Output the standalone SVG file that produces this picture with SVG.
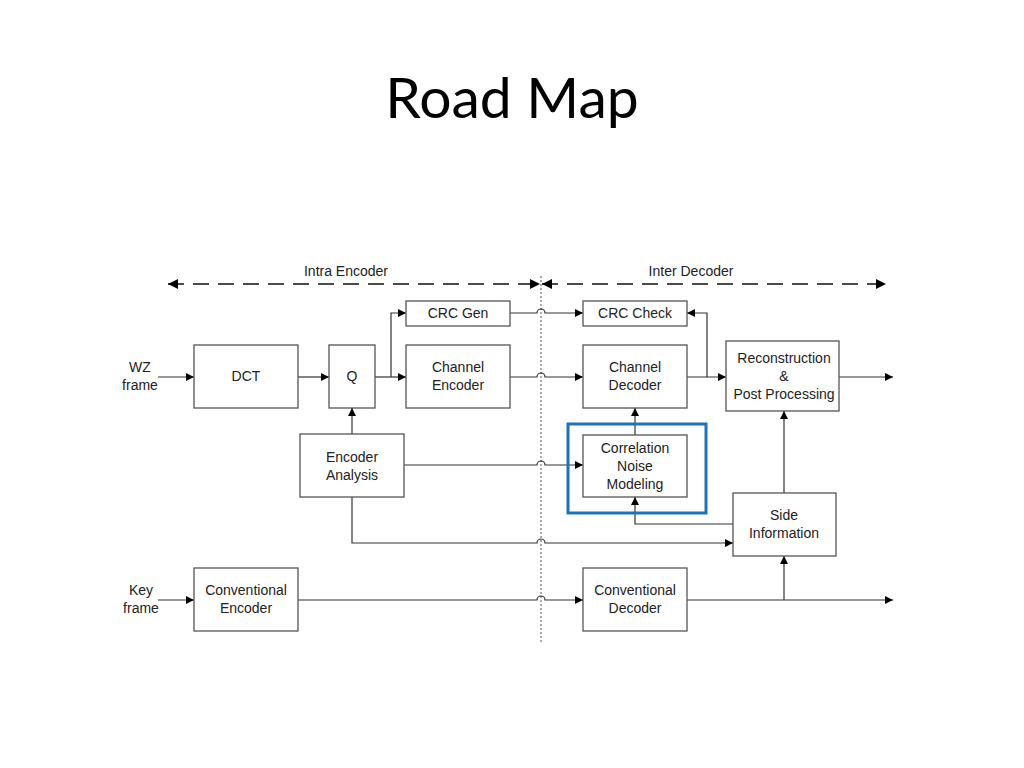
<svg xmlns="http://www.w3.org/2000/svg" width="1024" height="768" viewBox="0 0 1024 768">
<style>
.box{fill:#fff;stroke:#555;stroke-width:1.3}
.t{font-family:"Liberation Sans",Arial,sans-serif;font-size:14px;fill:#222;text-anchor:middle}
.c{fill:none;stroke:#333;stroke-width:1.2}
.ca{fill:none;stroke:#333;stroke-width:1.2;marker-end:url(#ah)}
.dash{fill:none;stroke:#111;stroke-width:1.5;stroke-dasharray:16 9}
</style>
<defs>
<marker id="ah" viewBox="0 0 10 10" refX="10" refY="5" markerWidth="8" markerHeight="8" markerUnits="userSpaceOnUse" orient="auto"><path d="M0,0 L10,5 L0,10 z" fill="#000"/></marker>
<marker id="dh" viewBox="0 0 10 10" refX="10" refY="5" markerWidth="10" markerHeight="10" markerUnits="userSpaceOnUse" orient="auto-start-reverse"><path d="M0,0 L10,5 L0,10 z" fill="#000"/></marker>
</defs>
<rect width="1024" height="768" fill="#fff"/>
<text x="512" y="118" font-family="Lato,'Open Sans',sans-serif" font-size="57" fill="#000" text-anchor="middle">Road Map</text>

<g id="ranges">
<text class="t" x="346" y="276">Intra Encoder</text>
<text class="t" x="691" y="276">Inter Decoder</text>
<path class="dash" d="M168,284 H540" marker-start="url(#dh)" marker-end="url(#dh)"/>
<path class="dash" d="M542,284 H886" marker-start="url(#dh)" marker-end="url(#dh)"/>
<path d="M541,276 V643" fill="none" stroke="#555" stroke-width="1" stroke-dasharray="2 2"/>
</g>

<g id="connectors">
<path class="ca" d="M158,377 H194"/>
<path class="ca" d="M298,377 H329"/>
<path class="ca" d="M375,377 H406"/>
<path class="ca" d="M391,377 V313 H406"/>
<path class="ca" d="M510,313 H537 a4,4 0 0 1 8,0 H583"/>
<path class="ca" d="M510,377 H537 a4,4 0 0 1 8,0 H583"/>
<path class="ca" d="M687,377 H726"/>
<path class="ca" d="M707,377 V313 H687"/>
<path class="ca" d="M839,377 H893"/>
<path class="ca" d="M352,434 V408"/>
<path class="ca" d="M404,465 H537 a4,4 0 0 1 8,0 H583"/>
<path class="ca" d="M352,497 V543 H537 a4,4 0 0 1 8,0 H733"/>
<path class="ca" d="M635,435 V408"/>
<path class="ca" d="M733,524 H635 V497"/>
<path class="ca" d="M784,493 V411"/>
<path class="ca" d="M158,600 H194"/>
<path class="ca" d="M298,600 H537 a4,4 0 0 1 8,0 H583"/>
<path class="ca" d="M687,600 H893"/>
<path class="ca" d="M784,600 V556"/>
</g>

<g id="wz"><text class="t" x="140" y="372">WZ</text><text class="t" x="140" y="390">frame</text></g>
<g id="key"><text class="t" x="141" y="595">Key</text><text class="t" x="141" y="613">frame</text></g>

<g id="dct"><rect class="box" x="194" y="345" width="104" height="63"/><text class="t" x="246" y="381">DCT</text></g>
<g id="q"><rect class="box" x="329" y="345" width="46" height="63"/><text class="t" x="352" y="381">Q</text></g>
<g id="crcgen"><rect class="box" x="406" y="301" width="104" height="25"/><text class="t" x="458" y="318">CRC Gen</text></g>
<g id="chenc"><rect class="box" x="406" y="345" width="104" height="63"/><text class="t" x="458" y="372">Channel</text><text class="t" x="458" y="390">Encoder</text></g>
<g id="crccheck"><rect class="box" x="583" y="301" width="104" height="25"/><text class="t" x="635" y="318">CRC Check</text></g>
<g id="chdec"><rect class="box" x="583" y="345" width="104" height="63"/><text class="t" x="635" y="372">Channel</text><text class="t" x="635" y="390">Decoder</text></g>
<g id="recon"><rect class="box" x="726" y="341" width="113" height="70"/><text class="t" x="784" y="363">Reconstruction</text><text class="t" x="784" y="381">&amp;</text><text class="t" x="784" y="399">Post Processing</text></g>
<g id="encan"><rect class="box" x="300" y="434" width="104" height="63"/><text class="t" x="352" y="462">Encoder</text><text class="t" x="352" y="480">Analysis</text></g>
<g id="cnm"><rect class="box" x="583" y="435" width="104" height="62"/><text class="t" x="635" y="453">Correlation</text><text class="t" x="635" y="471">Noise</text><text class="t" x="635" y="489">Modeling</text>
<rect x="568" y="424" width="138" height="89" fill="none" stroke="#1b74b9" stroke-width="3"/></g>
<g id="side"><rect class="box" x="733" y="493" width="103" height="63"/><text class="t" x="784" y="520">Side</text><text class="t" x="784" y="538">Information</text></g>
<g id="convenc"><rect class="box" x="194" y="568" width="104" height="63"/><text class="t" x="246" y="595">Conventional</text><text class="t" x="246" y="613">Encoder</text></g>
<g id="convdec"><rect class="box" x="583" y="568" width="104" height="63"/><text class="t" x="635" y="595">Conventional</text><text class="t" x="635" y="613">Decoder</text></g>
</svg>
